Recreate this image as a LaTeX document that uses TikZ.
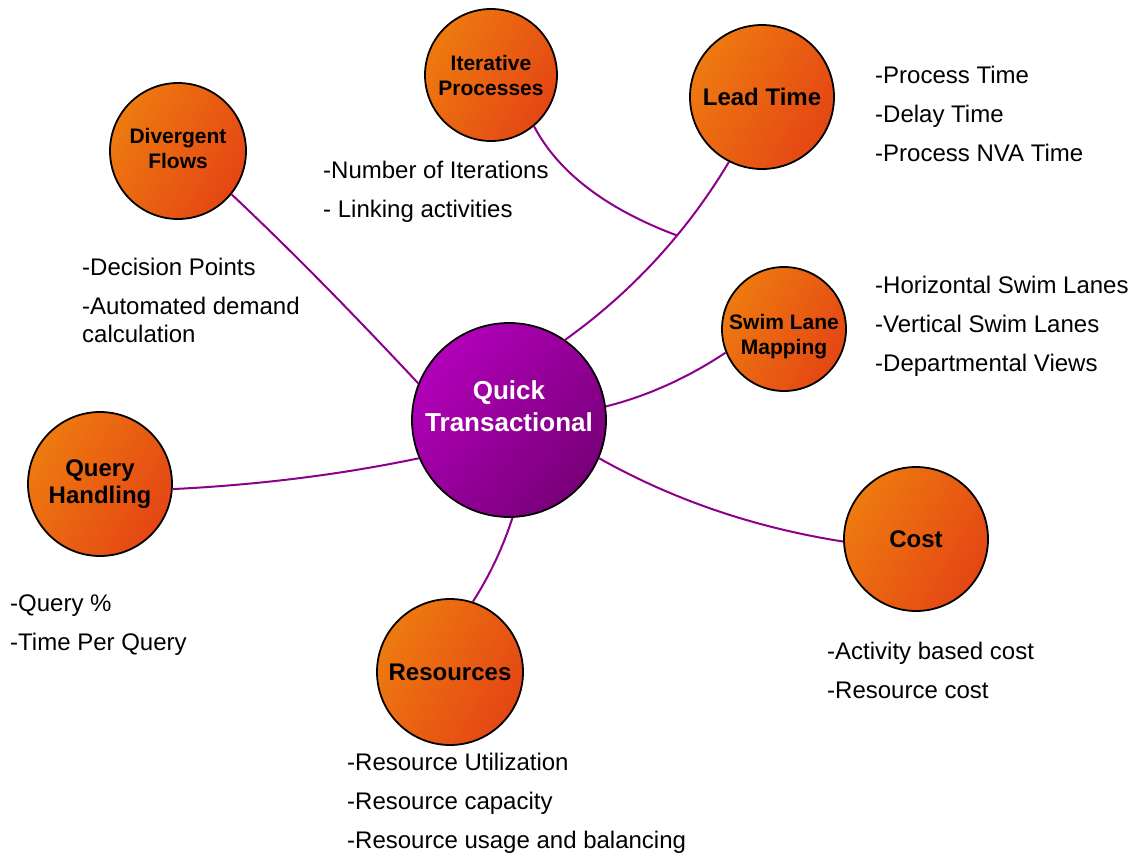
\documentclass[tikz,border=0pt]{standalone}
\usepackage{fontspec}
\setmainfont{Liberation Sans}

\definecolor{ornLight}{RGB}{238,122,16}
\definecolor{ornDark}{RGB}{228,70,20}
\definecolor{hubLight}{RGB}{178,0,186}
\definecolor{hubDark}{RGB}{120,0,120}
\definecolor{linkPurple}{RGB}{140,0,140}

\begin{document}
\begin{tikzpicture}[x=1pt, y=-1pt,
    topic/.style={circle, draw=black, line width=1.8pt, inner sep=0pt, minimum size=#1,
      top color=ornLight, bottom color=ornDark, shading angle=60,
      align=center, font=\bfseries\fontsize{24}{27}\selectfont},
    smalltopic/.style={topic=#1, font=\bfseries\fontsize{21}{25}\selectfont},
    smalltext/.style={align=center, font=\bfseries\fontsize{21}{25}\selectfont},
    hub/.style={circle, draw=black, line width=1.8pt, inner sep=0pt, minimum size=194pt,
      top color=hubLight, bottom color=hubDark, shading angle=50},
    hubtext/.style={align=center, text=white, font=\bfseries\fontsize{26}{32}\selectfont},
    link/.style={draw=linkPurple, line width=2pt},
    notes/.style={anchor=north west, inner sep=0pt, align=left, font=\fontsize{24}{39}\selectfont}]
    \useasboundingbox (0,0) rectangle (1139,854);

    % circles
    \node[hub] (hub) at (509,420) {};
    \node[hubtext] (hubtext) at ([yshift=14pt]hub.center) {Quick\\Transactional};
    \node[smalltopic=136pt] (div) at (178,151) {};
    \node[smalltext] (divtext) at ([yshift=3pt]div.center) {Divergent\\Flows};
    \node[smalltopic=132pt] (iter) at (491,75) {Iterative\\Processes};
    \node[topic=144pt] (lead) at (762,97) {Lead Time};
    \node[smalltopic=124pt] (swim) at (784,329) {};
    \node[smalltext] (swimtext) at ([yshift=-8pt]swim.center) {Swim Lane\\Mapping};
    \node[topic=144pt] (cost) at (916,539) {Cost};
    \node[topic=146pt] (res) at (450,672) {Resources};
    \node[topic=144pt] (query) at (100,484) {Query\\Handling};

    % connectors
    \draw[link] (lead.243) .. controls (687,232) and (632,292) .. (hub.55) coordinate[pos=0.37] (junc);
    \draw[link] (iter.310) .. controls (558,172) and (606,209) .. (junc);
    \draw[link] (div.321) .. controls (296,255) and (358,319) .. (hub.158);
    \draw[link] (swim.202) .. controls (689,377) and (648,396) .. (hub.8);
    \draw[link] (cost.182) .. controls (757,528) and (675,501) .. (hub.337);
    \draw[link] (query.356) .. controls (256,485) and (339,475) .. (hub.203);
    \draw[link] (res.72) .. controls (490,575) and (503,547) .. (hub.272);

    % notes
    \node[notes] (leadnotes) at (875,66) {-Process Time\\-Delay Time\\-Process NVA Time};
    \node[notes] (iternotes) at (323,161) {-Number of Iterations\\- Linking activities};
    \node[notes] (divnotes) at (82,258) {-Decision Points\\-Automated demand\\[-11pt]calculation};
    \node[notes] (swimnotes) at (875,276) {-Horizontal Swim Lanes\\-Vertical Swim Lanes\\-Departmental Views};
    \node[notes] (querynotes) at (10,595) {-Query \%\\-Time Per Query};
    \node[notes] (costnotes) at (827,642) {-Activity based cost\\-Resource cost};
    \node[notes] (resnotes) at (347,753) {-Resource Utilization\\-Resource capacity\\-Resource usage and balancing};
\end{tikzpicture}
\end{document}
